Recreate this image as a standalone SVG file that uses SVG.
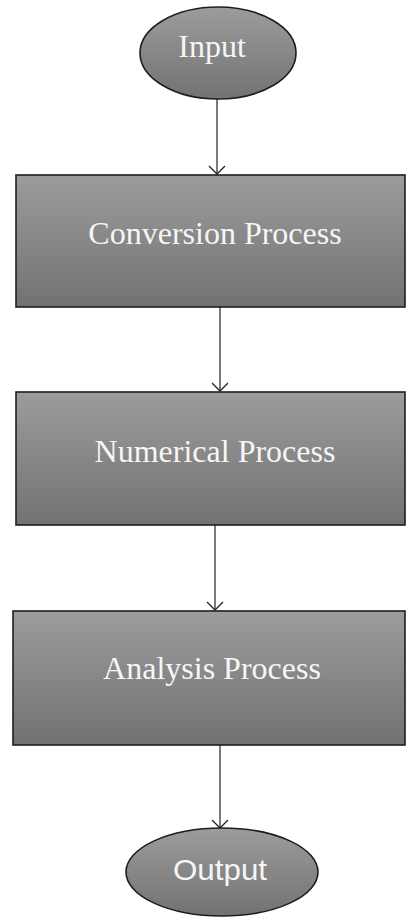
<svg xmlns="http://www.w3.org/2000/svg" width="406" height="917" viewBox="0 0 406 917">
<defs>
<linearGradient id="g" x1="0" y1="0" x2="0" y2="1">
<stop offset="0" stop-color="#9c9c9c"/>
<stop offset="1" stop-color="#727272"/>
</linearGradient>
<marker id="arr" markerWidth="20" markerHeight="20" refX="9" refY="10" orient="auto" markerUnits="userSpaceOnUse">
<path d="M1,2 L9,10 L1,18" fill="none" stroke="#222" stroke-width="1.3"/>
</marker>
<style>
.shape{fill:url(#g);stroke:#1e1e1e;stroke-width:1.6}
.serif{font-family:"Liberation Serif","Times New Roman",serif;font-size:32px;fill:#f6f6f6;text-anchor:middle}
.sans{font-family:"Liberation Sans",Arial,sans-serif;font-size:29px;fill:#f6f6f6;text-anchor:middle}
.conn{stroke:#333;stroke-width:1.3;fill:none;marker-end:url(#arr)}
</style>
</defs>
<g id="connectors">
<line class="conn" x1="217" y1="99" x2="217" y2="174"/>
<line class="conn" x1="220" y1="307" x2="220" y2="391"/>
<line class="conn" x1="215" y1="525" x2="215" y2="610"/>
<line class="conn" x1="220" y1="745" x2="220" y2="828"/>
</g>
<g id="input">
<ellipse class="shape" cx="218" cy="53" rx="78" ry="46"/>
<text class="serif" x="212" y="57">Input</text>
</g>
<g id="conversion">
<rect class="shape" x="16" y="175" width="389" height="132"/>
<text class="serif" x="215" y="244">Conversion Process</text>
</g>
<g id="numerical">
<rect class="shape" x="16" y="392" width="389" height="133"/>
<text class="serif" x="215" y="462">Numerical Process</text>
</g>
<g id="analysis">
<rect class="shape" x="13" y="611" width="392" height="134"/>
<text class="serif" x="212" y="679">Analysis Process</text>
</g>
<g id="output">
<ellipse class="shape" cx="222" cy="872" rx="96" ry="44"/>
<text class="sans" x="220" y="880" textLength="94" lengthAdjust="spacingAndGlyphs">Output</text>
</g>
</svg>
